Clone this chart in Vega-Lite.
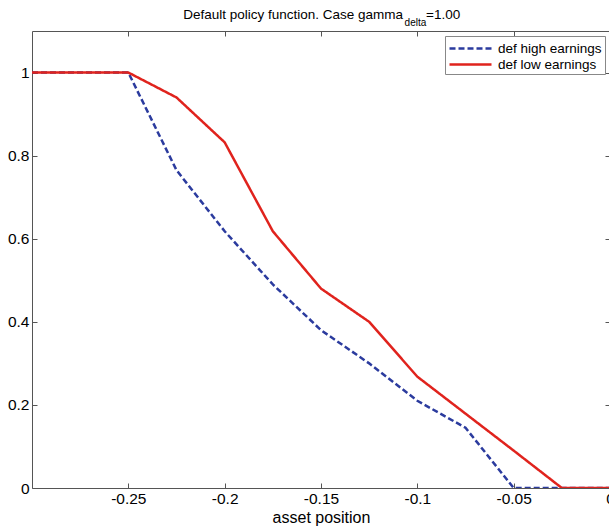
{
  "$schema": "https://vega.github.io/schema/vega-lite/v6.json",
  "autosize": {"type": "none"},
  "width": 578,
  "height": 457,
  "padding": {"left": 32, "top": 31, "right": 0, "bottom": 42},
  "background": "white",
  "config": {
    "font": "Liberation Sans",
    "view": {"stroke": null},
    "axis": {"grid": false, "domainColor": "#555", "tickColor": "#555", "labelColor": "black", "labelFont": "Liberation Sans", "titleFont": "Liberation Sans", "titleFontWeight": "normal", "labelFontSize": 15.5, "titleFontSize": 16, "titleColor": "black"}
  },
  "datasets": {
    "pts": [
      {"x": -0.3, "y": 1, "series": "def high earnings"},
      {"x": -0.275, "y": 1, "series": "def high earnings"},
      {"x": -0.25, "y": 1, "series": "def high earnings"},
      {"x": -0.225, "y": 0.765, "series": "def high earnings"},
      {"x": -0.2, "y": 0.618, "series": "def high earnings"},
      {"x": -0.175, "y": 0.49, "series": "def high earnings"},
      {"x": -0.15, "y": 0.38, "series": "def high earnings"},
      {"x": -0.125, "y": 0.3, "series": "def high earnings"},
      {"x": -0.1, "y": 0.21, "series": "def high earnings"},
      {"x": -0.075, "y": 0.145, "series": "def high earnings"},
      {"x": -0.05, "y": 0, "series": "def high earnings"},
      {"x": -0.025, "y": 0, "series": "def high earnings"},
      {"x": 0, "y": 0, "series": "def high earnings"},
      {"x": -0.3, "y": 1, "series": "def low earnings"},
      {"x": -0.275, "y": 1, "series": "def low earnings"},
      {"x": -0.25, "y": 1, "series": "def low earnings"},
      {"x": -0.225, "y": 0.94, "series": "def low earnings"},
      {"x": -0.2, "y": 0.832, "series": "def low earnings"},
      {"x": -0.175, "y": 0.618, "series": "def low earnings"},
      {"x": -0.15, "y": 0.48, "series": "def low earnings"},
      {"x": -0.125, "y": 0.4, "series": "def low earnings"},
      {"x": -0.1, "y": 0.268, "series": "def low earnings"},
      {"x": -0.075, "y": 0.179, "series": "def low earnings"},
      {"x": -0.05, "y": 0.09, "series": "def low earnings"},
      {"x": -0.025, "y": 0, "series": "def low earnings"},
      {"x": 0, "y": 0, "series": "def low earnings"}
    ],
    "one": [{}]
  },
  "layer": [
    {
      "data": {"name": "pts"},
      "mark": {"type": "line", "strokeWidth": 2.5, "clip": true},
      "encoding": {
        "x": {"field": "x", "type": "quantitative", "scale": {"domain": [-0.3, 0], "nice": false, "zero": false},
          "axis": {"orient": "bottom", "title": "asset position", "values": [-0.25, -0.2, -0.15, -0.1, -0.05, 0], "labelExpr": "'' + datum.value", "tickSize": -5, "labelPadding": 8, "titlePadding": 3, "labelFlush": false, "labelOverlap": false}},
        "y": {"field": "y", "type": "quantitative", "scale": {"domain": [0, 1.1], "nice": false},
          "axis": {"orient": "left", "title": null, "values": [0, 0.2, 0.4, 0.6, 0.8, 1], "labelExpr": "'' + datum.value", "tickSize": -5, "labelPadding": 8, "labelFlush": false, "labelOverlap": false}},
        "color": {"field": "series", "type": "nominal",
          "scale": {"domain": ["def high earnings", "def low earnings"], "range": ["#2b3b9e", "#e0231d"]},
          "legend": {"title": null, "orient": "top-right", "offset": 5, "symbolType": "M-1,0H4.25", "symbolSize": 256, "symbolStrokeWidth": 2.5, "symbolFillColor": "transparent", "labelFontSize": 13.5, "labelFont": "Liberation Sans", "labelColor": "black", "strokeColor": "#888", "fillColor": "white", "padding": 3, "rowPadding": 0, "labelOffset": 31}},
        "strokeDash": {"field": "series", "type": "nominal",
          "scale": {"domain": ["def high earnings", "def low earnings"], "range": [[6, 3], [1, 0]]},
          "legend": null}
      }
    },
    {
      "data": {"name": "pts"},
      "mark": {"type": "point", "opacity": 0},
      "encoding": {
        "x": {"field": "x", "type": "quantitative", "axis": {"orient": "top", "title": null, "labels": false, "values": [-0.25, -0.2, -0.15, -0.1, -0.05, 0], "tickSize": -5}},
        "y": {"field": "y", "type": "quantitative", "axis": {"orient": "right", "title": null, "labels": false, "values": [0, 0.2, 0.4, 0.6, 0.8, 1], "tickSize": -5}}
      }
    },
    {
      "data": {"name": "one"},
      "mark": {"type": "text", "text": "Default policy function. Case gamma", "align": "right", "baseline": "alphabetic", "fontSize": 13.5, "dy": -12.5, "font": "Liberation Sans", "color": "black"},
      "encoding": {"x": {"datum": -0.1074, "type": "quantitative", "axis": null}, "y": {"datum": 1.1, "type": "quantitative", "axis": null}}
    },
    {
      "data": {"name": "one"},
      "mark": {"type": "text", "text": "delta", "align": "left", "baseline": "alphabetic", "fontSize": 10, "dy": -5, "font": "Liberation Sans", "color": "black"},
      "encoding": {"x": {"datum": -0.1066, "type": "quantitative", "axis": null}, "y": {"datum": 1.1, "type": "quantitative", "axis": null}}
    },
    {
      "data": {"name": "one"},
      "mark": {"type": "text", "text": "=1.00", "align": "left", "baseline": "alphabetic", "fontSize": 13.5, "dy": -12.5, "font": "Liberation Sans", "color": "black"},
      "encoding": {"x": {"datum": -0.0955, "type": "quantitative", "axis": null}, "y": {"datum": 1.1, "type": "quantitative", "axis": null}}
    }
  ],
  "resolve": {"axis": {"x": "independent", "y": "independent"}}
}
